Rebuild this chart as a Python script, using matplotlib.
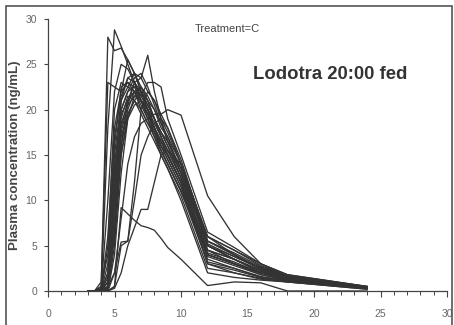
import matplotlib
matplotlib.use("Agg")
import matplotlib.pyplot as plt
import matplotlib.ticker as mticker
from matplotlib.patches import Rectangle

# sampling times (h)
times = [3, 3.5, 4, 4.5, 5, 5.5, 6, 6.5, 7, 7.5, 8, 8.5, 9, 10, 12, 14, 16, 18, 24]

# plasma concentration (ng/mL) per subject
subjects = [
    [0, 0, 0.5, 28.0, 26.5, 26.8, 25.5, 24.0, 22.0, 20.0, 18.0, 16.5, 15.0, 12.0, 5.0, 3.5, 2.0, 1.5, 0.4],
    [0, 0, 0.2, 18.0, 28.8, 27.0, 25.0, 23.0, 21.0, 19.5, 17.5, 15.5, 14.0, 11.0, 4.0, 3.0, 1.8, 1.2, 0.3],
    [0, 0, 1.0, 23.0, 22.5, 22.0, 25.5, 24.0, 22.5, 21.0, 19.0, 17.0, 15.5, 12.5, 5.5, 4.0, 2.5, 1.4, 0.4],
    [0, 0, 0.3, 10.0, 22.0, 25.0, 24.5, 23.0, 21.0, 19.0, 17.0, 15.5, 14.0, 11.0, 4.5, 3.0, 2.0, 1.3, 0.3],
    [0, 0, 0, 5.0, 20.0, 23.0, 22.5, 24.0, 23.5, 26.0, 22.0, 19.0, 16.5, 13.0, 6.0, 4.5, 3.0, 1.6, 0.4],
    [0, 0, 0, 3.0, 17.0, 21.5, 23.5, 24.0, 22.0, 20.5, 19.0, 17.0, 15.0, 12.0, 3.5, 2.5, 1.5, 1.2, 0.3],
    [0, 0, 0, 2.0, 14.0, 20.0, 22.0, 23.5, 24.0, 22.5, 20.5, 18.5, 16.5, 13.5, 5.0, 3.5, 2.2, 1.5, 0.4],
    [0, 0, 0, 1.0, 12.0, 19.5, 21.0, 22.0, 21.5, 23.0, 23.0, 22.5, 19.0, 15.0, 6.5, 4.8, 3.0, 1.8, 0.5],
    [0, 0, 0, 0.5, 10.0, 18.5, 20.5, 23.0, 23.5, 22.0, 21.0, 19.5, 18.0, 14.5, 5.5, 4.0, 2.5, 1.6, 0.4],
    [0, 0, 0, 0.2, 8.0, 17.0, 19.5, 21.0, 22.0, 21.0, 20.0, 18.0, 17.0, 13.0, 4.0, 3.0, 2.0, 1.3, 0.3],
    [0, 0, 0, 0, 2.0, 8.0, 14.0, 17.0, 18.5, 19.0, 19.5, 19.5, 20.0, 19.4, 10.5, 6.0, 3.0, 1.8, 0.5],
    [0, 0, 0, 0, 5.0, 15.0, 19.0, 21.5, 22.5, 21.0, 19.0, 17.5, 16.0, 12.5, 4.5, 3.5, 2.2, 1.4, 0.3],
    [0, 0, 0, 1.5, 6.0, 16.0, 21.0, 22.0, 21.0, 19.5, 18.0, 16.0, 14.5, 11.5, 3.0, 2.0, 1.3, 1.0, 0.3],
    [0, 0, 0, 0, 0.5, 9.2, 8.5, 7.8, 7.2, 7.0, 6.7, 5.8, 4.8, 3.5, 0.6, 1.0, 0.9, 0.0, 0.0],
    [0, 0, 0, 0, 0.3, 2.0, 5.0, 7.0, 9.0, 9.0, 12.0, 15.0, 15.5, 14.0, 6.0, 4.0, 2.5, 1.5, 0.4],
    [0, 0, 0, 0, 0.5, 5.0, 5.5, 10.0, 15.0, 17.0, 18.5, 19.0, 18.0, 14.0, 5.0, 3.5, 2.2, 1.4, 0.4],
    [0, 0, 0, 0.5, 2.0, 5.4, 5.5, 12.0, 20.0, 22.0, 21.0, 19.0, 17.5, 14.0, 5.2, 3.8, 2.4, 1.5, 0.4],
    [0, 0, 0.2, 6.0, 18.0, 22.0, 23.0, 22.5, 21.0, 19.5, 18.0, 16.0, 14.5, 11.5, 4.0, 3.0, 2.0, 1.3, 0.3],
    [0, 0, 0, 2.0, 15.0, 21.0, 22.5, 22.0, 20.5, 19.0, 17.5, 15.5, 14.0, 11.0, 3.2, 2.5, 1.6, 1.1, 0.3],
    [0, 0, 0, 0.5, 11.0, 19.0, 21.5, 21.0, 19.5, 18.0, 16.5, 15.0, 13.5, 10.5, 2.5, 2.0, 1.4, 1.0, 0.2],
    [0, 0, 0, 1.0, 13.0, 20.0, 22.0, 22.5, 22.0, 20.5, 19.0, 17.5, 16.0, 13.0, 5.0, 3.8, 2.6, 1.6, 0.4],
    [0, 0, 0, 0, 9.0, 17.5, 20.5, 21.5, 21.0, 20.0, 18.5, 17.0, 15.5, 12.5, 4.5, 3.5, 2.3, 1.5, 0.4],
    [0, 0, 0, 0.3, 7.0, 16.0, 20.0, 22.0, 22.5, 21.5, 20.0, 18.5, 17.0, 14.0, 6.0, 4.5, 2.8, 1.7, 0.5],
    [0, 0, 0.5, 4.0, 16.0, 22.5, 23.0, 22.0, 20.0, 18.5, 17.0, 15.0, 13.5, 10.0, 2.0, 1.5, 1.2, 1.0, 0.2],
    [0, 0, 0, 0, 4.0, 13.0, 19.0, 20.5, 21.0, 20.0, 19.0, 17.5, 16.5, 13.5, 5.5, 4.2, 2.7, 1.6, 0.4],
    [0, 0, 0, 0.5, 10.0, 18.0, 21.0, 23.0, 22.0, 20.0, 18.0, 16.5, 15.0, 12.0, 3.8, 2.8, 1.8, 1.2, 0.3],
    [0, 0, 0, 0, 6.0, 15.0, 19.5, 21.0, 20.0, 18.5, 17.5, 16.0, 15.0, 12.0, 3.0, 2.3, 1.5, 1.1, 0.3],
    [0, 0, 0, 1.0, 12.0, 21.0, 23.5, 23.0, 21.5, 20.0, 18.0, 16.5, 15.0, 12.0, 4.2, 3.2, 2.0, 1.3, 0.3],
]

treatment = "Treatment=C"
title = "Lodotra 20:00 fed"
ylabel = "Plasma concentration (ng/mL)"

plt.rcParams["font.family"] = ["Liberation Sans", "DejaVu Sans"]

fig = plt.figure(figsize=(4.54, 3.25), dpi=100)
fig.patch.set_facecolor("white")
# outer frame of the pasted figure
fig.add_artist(Rectangle((6 / 454, -0.05), 446 / 454, 1 - 6 / 325 + 0.05,
                         transform=fig.transFigure, fill=False,
                         edgecolor="#555555", linewidth=1.2))

ax = fig.add_axes([48 / 454, 34 / 325, 399 / 454, 272 / 325])
for conc in subjects:
    ax.plot(times, conc, color="#333333", linewidth=0.95)

ax.set_xlim(0, 30)
ax.set_ylim(0, 30)
ax.spines["top"].set_visible(False)
ax.spines["right"].set_visible(False)
for s in ("left", "bottom"):
    ax.spines[s].set_color("#444444")
    ax.spines[s].set_linewidth(0.9)

ax.xaxis.set_major_locator(mticker.MultipleLocator(5))
ax.xaxis.set_minor_locator(mticker.MultipleLocator(1))
ax.yaxis.set_major_locator(mticker.MultipleLocator(5))
ax.tick_params(axis="x", which="major", length=4, width=0.8, color="#444444",
               pad=9, labelsize=7.5, labelcolor="#666666")
ax.tick_params(axis="x", which="minor", length=3, width=0.7, color="#444444")
ax.tick_params(axis="y", which="major", length=3, width=0.8, color="#444444",
               pad=5, labelsize=7.5, labelcolor="#666666")

ax.set_ylabel(ylabel, fontsize=9.5, fontweight="bold", color="#444444")
ax.yaxis.set_label_coords(-27 / 399, 0.5)

ax.text(11.05, 28.9, treatment, fontsize=8, color="#444444", va="center", ha="left")
ax.text(15.4, 23.9, title, fontsize=13.3, fontweight="bold", color="#333333",
        va="center", ha="left")

fig.savefig("out.png", dpi=100)
